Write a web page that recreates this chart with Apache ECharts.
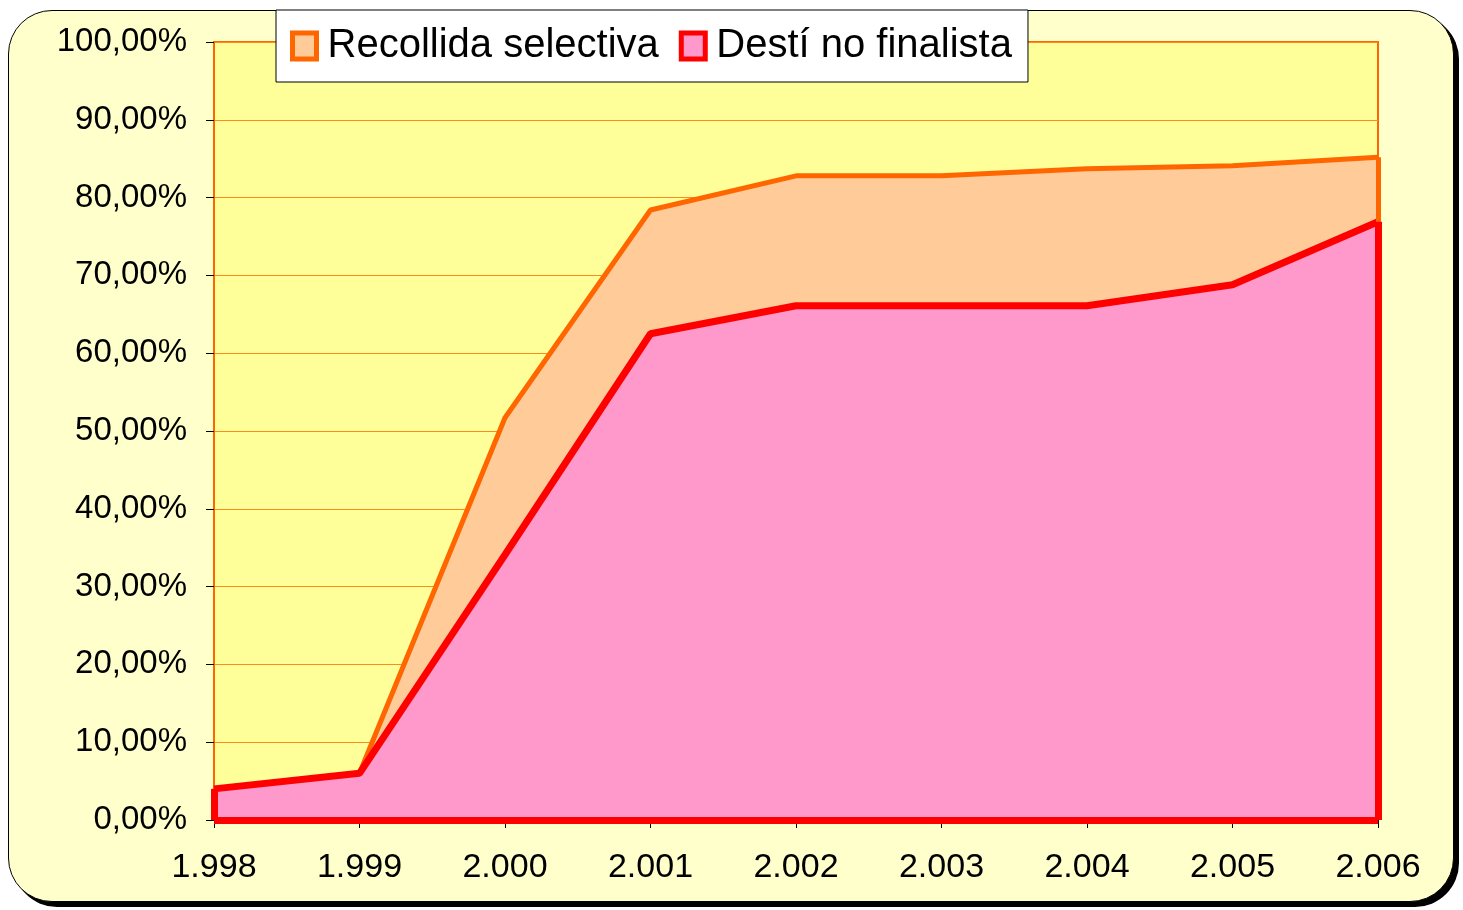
<!DOCTYPE html>
<html>
<head>
<meta charset="utf-8">
<script src="https://cdn.jsdelivr.net/npm/echarts@6/dist/echarts.min.js"></script>
<style>
  html, body { margin: 0; padding: 0; background: #fff; }
  .frame { position: absolute; left: 8px; top: 10px; width: 1444px; height: 890px;
    border: 1.5px solid #000; border-radius: 44px; background: #FFFFCC;
    box-shadow: 5px 5px 0 #000; }
  #chart { position: absolute; left: 0; top: 0; width: 1463px; height: 910px; }
</style>
</head>
<body>
<div class="frame"></div>
<div id="chart"></div>
<script>
const years = ['1.998', '1.999', '2.000', '2.001', '2.002', '2.003', '2.004', '2.005', '2.006']
const recollida = [4.0, 6.0, 51.7, 78.4, 82.8, 82.8, 83.7, 84.1, 85.2]
const desti = [4.0, 6.0, 34.1, 62.5, 66.1, 66.1, 66.1, 68.8, 76.9]
const yTicks = [0, 10, 20, 30, 40, 50, 60, 70, 80, 90, 100]

const font = 'Liberation Sans, Arial, sans-serif'
const chart = echarts.init(document.getElementById('chart'))

// Excel-style area outline: left edge, right edge, base
function outline(values) {
  const last = years.length - 1
  return [
    [{ coord: [years[0], 0] }, { coord: [years[0], values[0]] }],
    [{ coord: [years[last], 0] }, { coord: [years[last], values[last]] }],
    [{ coord: [years[0], 0] }, { coord: [years[last], 0] }]
  ]
}

function areaSeries(name, data, line, fill, width, z) {
  return {
    name, type: 'line', data, z,
    showSymbol: false, symbol: 'none',
    lineStyle: { color: line, width },
    areaStyle: { color: fill, opacity: 1 },
    itemStyle: { color: fill, borderColor: line, borderWidth: 5 },
    markLine: {
      silent: true, symbol: ['none', 'none'], label: { show: false },
      lineStyle: { color: line, width, type: 'solid' },
      data: outline(data)
    }
  }
}

chart.setOption({
  animation: false,
  textStyle: { fontFamily: font },
  grid: {
    left: 214, top: 42, right: 85, bottom: 90,
    show: true, backgroundColor: '#FFFF99', borderColor: '#FF6600', borderWidth: 2
  },
  legend: {
    left: 276, top: 10,
    backgroundColor: '#fff', borderColor: '#000', borderWidth: 1, borderRadius: 0,
    padding: [16, 16, 16, 14],
    itemWidth: 24, itemHeight: 26, itemGap: 20,
    textStyle: { fontSize: 40, lineHeight: 40, color: '#000', fontFamily: font, padding: [0, 0, 0, 6] },
    data: [
      { name: 'Recollida selectiva', icon: 'rect',
        itemStyle: { color: '#FFCC99', borderColor: '#FF6600', borderWidth: 5 } },
      { name: 'Destí no finalista', icon: 'rect',
        itemStyle: { color: '#FF99CC', borderColor: '#FF0000', borderWidth: 5 } }
    ]
  },
  xAxis: {
    type: 'category', data: years, boundaryGap: false,
    axisLine: { show: true, lineStyle: { color: '#000', width: 1 } },
    axisTick: { show: true, alignWithLabel: true, length: 8, lineStyle: { color: '#000' } },
    axisLabel: { color: '#000', fontSize: 34, margin: 31, fontFamily: font },
    splitLine: { show: false }
  },
  yAxis: {
    type: 'value', min: yTicks[0], max: yTicks[yTicks.length - 1], interval: 10,
    axisLine: { show: true, lineStyle: { color: '#FF6600', width: 2 } },
    axisTick: { show: true, length: 8, lineStyle: { color: '#000' } },
    axisLabel: {
      color: '#000', fontSize: 33, margin: 27, fontFamily: font,
      formatter: v => v.toFixed(2).replace('.', ',') + '%'
    },
    splitLine: { show: true, lineStyle: { color: '#FF8C1A', width: 1 } }
  },
  series: [
    areaSeries('Recollida selectiva', recollida, '#FF6600', '#FFCC99', 5, 2),
    areaSeries('Destí no finalista', desti, '#FF0000', '#FF99CC', 7, 3)
  ]
})
</script>
</body>
</html>
